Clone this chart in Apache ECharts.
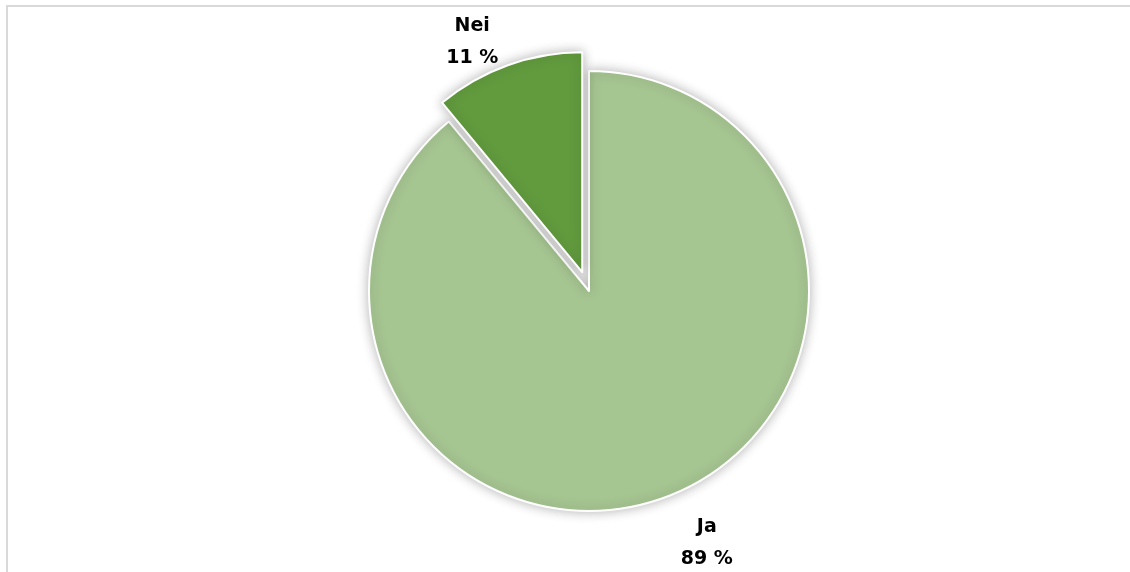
<!DOCTYPE html>
<html>
<head>
<meta charset="utf-8">
<script src="https://cdn.jsdelivr.net/npm/echarts@6/dist/echarts.min.js"></script>
<style>
  html, body { margin: 0; padding: 0; background: #ffffff; }
  #chart { width: 1130px; height: 572px; }
</style>
</head>
<body>
<div id="chart"></div>
<script>
// Answer categories and their shares (percent)
const categories = ['Ja', 'Nei'];
const shares = [89, 11];
const sliceColors = ['#a5c591', '#629b3e'];

// Per-slice label offsets (radial length, horizontal length)
const labelLengths = [[48, 0], [25, 0]];

const chart = echarts.init(document.getElementById('chart'), null, { renderer: 'canvas' });

const data = categories.map((name, i) => ({
  name: name,
  value: shares[i],
  selected: name === 'Nei',
  itemStyle: { color: sliceColors[i] },
  labelLine: { show: false, length: labelLengths[i][0], length2: labelLengths[i][1] }
}));

chart.setOption({
  backgroundColor: '#ffffff',
  animation: false,
  // chart area frame: only its top and left edges fall inside the view
  graphic: [
    { type: 'line', silent: true, shape: { x1: 6, y1: 6, x2: 1130, y2: 6 },
      style: { stroke: '#d9d9d9', lineWidth: 2 } },
    { type: 'line', silent: true, shape: { x1: 7, y1: 5, x2: 7, y2: 572 },
      style: { stroke: '#d9d9d9', lineWidth: 2 } }
  ],
  series: [{
    type: 'pie',
    center: [589, 291],
    radius: 220,
    startAngle: 90,
    clockwise: true,
    avoidLabelOverlap: false,
    selectedMode: 'single',
    selectedOffset: 20,
    emphasis: { disabled: true },
    itemStyle: {
      borderColor: '#ffffff',
      borderWidth: 2,
      shadowBlur: 12,
      shadowColor: 'rgba(0,0,0,0.28)'
    },
    label: {
      show: true,
      position: 'outside',
      distanceToLabelLine: 0,
      formatter: '{a|{b}}\n{a|{c} %}',
      rich: {
        a: {
          width: 54,
          align: 'center',
          lineHeight: 32,
          fontFamily: 'DejaVu Sans',
          fontWeight: 'bold',
          fontSize: 19,
          color: '#000000'
        }
      }
    },
    data: data
  }]
});
</script>
</body>
</html>
